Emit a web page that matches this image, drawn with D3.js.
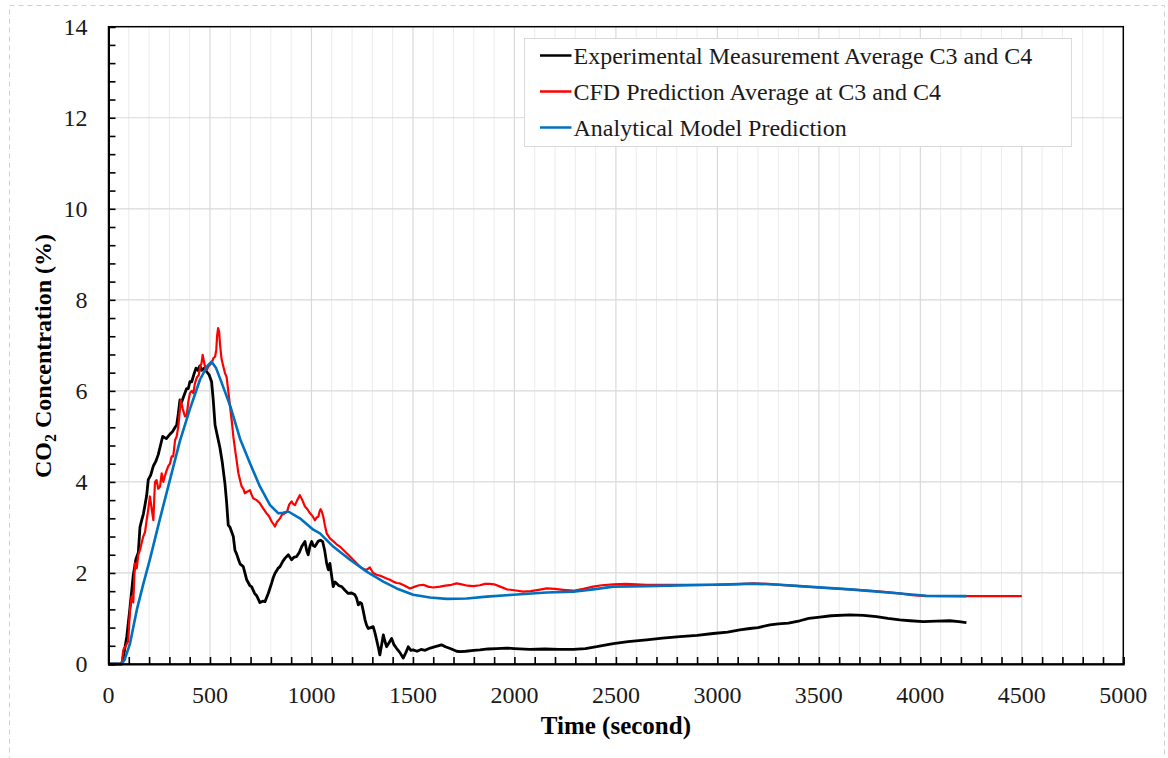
<!DOCTYPE html>
<html>
<head>
<meta charset="utf-8">
<script src="https://cdn.jsdelivr.net/npm/d3@7"></script>
<style>
  body { margin: 0; background: #fff; }
  svg { display: block; font-family: "Liberation Serif", "Times New Roman", serif; }
</style>
</head>
<body>
<svg id="chart" width="1168" height="758"></svg>
<script>
// series: [time (s), CO2 (%)]
const experimental = [
  [0,0],[40,0],[65,0],[75,0.2],[90,0.6],[105,1.2],[122,1.95],[135,2.3],[147,2.45],[155,3.0],[163,3.15],
  [172,3.3],[180,3.5],[188,3.7],[196,4.05],[208,4.15],[221,4.35],[233,4.45],[245,4.6],[256,4.8],[267,5.0],
  [285,4.95],[303,5.05],[315,5.1],[328,5.2],[336,5.25],[344,5.5],[352,5.8],[360,5.75],[372,5.9],[385,6.05],
  [393,6.05],[401,6.2],[410,6.2],[420,6.35],[431,6.5],[440,6.45],[450,6.55],[459,6.45],[470,6.5],[484,6.42],
  [496,6.35],[508,6.2],[516,5.8],[525,5.25],[537,5.0],[549,4.75],[560,4.45],[574,3.95],[582,3.55],[590,3.05],
  [599,3.0],[615,2.8],[623,2.5],[631,2.42],[640,2.3],[648,2.2],[664,2.14],[681,1.85],[697,1.72],[705,1.7],
  [720,1.55],[730,1.5],[746,1.35],[760,1.38],[771,1.37],[787,1.55],[804,1.78],[812,1.9],[820,1.99],[835,2.1],
  [845,2.14],[858,2.25],[869,2.32],[886,2.4],[902,2.29],[915,2.35],[927,2.36],[940,2.45],[952,2.58],[968,2.69],
  [976,2.5],[984,2.4],[993,2.6],[1001,2.69],[1009,2.6],[1017,2.58],[1034,2.7],[1045,2.72],[1055,2.69],[1065,2.5],
  [1075,2.21],[1083,2.07],[1091,2.21],[1099,1.95],[1107,1.7],[1116,1.8],[1124,1.77],[1136,1.72],[1149,1.7],
  [1165,1.62],[1181,1.55],[1198,1.56],[1214,1.52],[1222,1.45],[1231,1.3],[1239,1.35],[1247,1.33],[1256,1.15],
  [1264,0.97],[1272,0.85],[1280,0.78],[1292,0.8],[1304,0.82],[1312,0.7],[1321,0.53],[1330,0.35],[1337,0.2],
  [1345,0.4],[1354,0.64],[1362,0.5],[1370,0.38],[1380,0.45],[1395,0.56],[1407,0.42],[1420,0.34],[1436,0.25],
  [1452,0.13],[1465,0.25],[1477,0.38],[1490,0.3],[1501,0.31],[1520,0.28],[1540,0.32],[1560,0.3],[1585,0.35],
  [1610,0.38],[1641,0.42],[1660,0.38],[1690,0.33],[1715,0.28],[1732,0.27],[1760,0.28],[1800,0.3],[1830,0.31],
  [1870,0.33],[1912,0.34],[1960,0.35],[2000,0.34],[2076,0.32],[2150,0.33],[2220,0.32],[2290,0.32],[2350,0.34],
  [2405,0.38],[2487,0.45],[2560,0.49],[2651,0.53],[2730,0.57],[2815,0.6],[2900,0.63],[2979,0.67],[3050,0.7],
  [3111,0.75],[3160,0.78],[3200,0.8],[3259,0.86],[3300,0.88],[3350,0.9],[3406,0.95],[3450,1.0],[3505,1.03],
  [3560,1.06],[3653,1.08],[3720,1.07],[3784,1.04],[3840,1.0],[3899,0.97],[3950,0.95],[4014,0.93],[4080,0.94],
  [4145,0.95],[4190,0.93],[4227,0.91]
];

const cfd = [
  [0,0],[55,0],[65,0],[73,0.31],[85,0.4],[97,0.5],[106,1.2],[114,1.48],[122,1.35],[130,2.21],[139,2.1],
  [147,2.4],[155,2.5],[163,2.65],[171,2.8],[180,2.9],[188,3.16],[196,3.4],[204,3.68],[213,3.4],[221,3.16],
  [229,4.0],[237,4.04],[245,3.85],[254,3.9],[262,4.19],[270,4.0],[279,4.15],[287,4.26],[295,4.35],[303,4.4],
  [311,4.56],[319,4.56],[328,4.92],[336,5.0],[344,5.22],[350,5.5],[356,5.8],[366,5.6],[377,5.44],[385,5.45],
  [393,5.75],[401,5.95],[410,6.0],[418,5.95],[426,6.17],[436,6.3],[445,6.35],[451,6.53],[458,6.6],[464,6.79],
  [470,6.65],[477,6.5],[484,6.46],[494,6.55],[508,6.61],[517,6.72],[525,6.75],[531,6.9],[535,7.2],[540,7.38],
  [545,7.3],[550,7.0],[557,6.7],[565,6.55],[574,6.39],[582,6.3],[590,6.0],[599,5.65],[607,5.36],[615,5.0],
  [624,4.7],[631,4.48],[640,4.19],[648,4.04],[656,3.9],[664,3.85],[672,3.75],[681,3.78],[697,3.82],[705,3.72],
  [713,3.64],[730,3.6],[746,3.53],[762,3.42],[779,3.31],[790,3.25],[804,3.13],[812,3.08],[820,3.02],[830,3.12],
  [845,3.2],[855,3.28],[869,3.31],[880,3.35],[890,3.5],[902,3.57],[910,3.52],[919,3.49],[930,3.6],[943,3.71],
  [955,3.6],[968,3.46],[980,3.4],[993,3.31],[1005,3.25],[1017,3.16],[1026,3.22],[1034,3.24],[1040,3.35],
  [1045,3.4],[1051,3.35],[1058,3.24],[1066,3.05],[1075,2.87],[1091,2.76],[1107,2.7],[1124,2.63],[1140,2.58],
  [1165,2.47],[1190,2.36],[1214,2.25],[1239,2.14],[1260,2.08],[1272,2.07],[1288,2.12],[1304,2.0],[1321,1.96],
  [1345,1.93],[1370,1.88],[1387,1.85],[1403,1.81],[1420,1.78],[1436,1.77],[1460,1.72],[1485,1.66],[1510,1.7],
  [1530,1.73],[1551,1.74],[1575,1.7],[1600,1.68],[1633,1.7],[1660,1.72],[1690,1.74],[1715,1.77],[1740,1.75],
  [1770,1.72],[1797,1.71],[1830,1.73],[1855,1.76],[1879,1.76],[1900,1.75],[1930,1.7],[1962,1.64],[2000,1.62],
  [2043,1.59],[2080,1.6],[2120,1.63],[2159,1.66],[2200,1.65],[2240,1.63],[2290,1.61],[2340,1.65],[2388,1.7],
  [2430,1.73],[2487,1.75],[2550,1.76],[2651,1.74],[2750,1.74],[2850,1.74],[2979,1.74],[3080,1.75],[3176,1.77],
  [3250,1.76],[3308,1.74],[3406,1.71],[3500,1.68],[3653,1.64],[3780,1.6],[3899,1.55],[3960,1.51],[4030,1.49],
  [4227,1.49],[4500,1.49]
];

const analytical = [
  [0,0],[65,0],[80,0.1],[106,0.45],[140,1.2],[171,1.75],[204,2.3],[254,3.2],[303,4.05],[352,4.9],[401,5.6],
  [451,6.25],[487,6.55],[508,6.64],[530,6.5],[549,6.28],[599,5.68],[648,4.95],[697,4.41],[746,3.9],[796,3.49],
  [837,3.31],[860,3.32],[886,3.35],[943,3.2],[1009,2.95],[1042,2.87],[1107,2.58],[1190,2.29],[1272,2.03],
  [1354,1.81],[1420,1.66],[1501,1.52],[1584,1.46],[1666,1.43],[1765,1.44],[1863,1.48],[1994,1.52],[2159,1.57],
  [2290,1.59],[2388,1.64],[2487,1.7],[2651,1.71],[2979,1.74],[3144,1.76],[3200,1.76],[3308,1.74],[3406,1.71],
  [3653,1.64],[3899,1.55],[4030,1.5],[4227,1.49]
];

const seriesNames = [
  "Experimental Measurement Average C3 and C4",
  "CFD Prediction Average at C3 and C4",
  "Analytical Model Prediction"
];
const seriesColors = ["#000000", "#ff0000", "#0070c0"];

const xTicks = [0, 500, 1000, 1500, 2000, 2500, 3000, 3500, 4000, 4500, 5000];
const yTicks = [0, 2, 4, 6, 8, 10, 12, 14];

const svg = d3.select("#chart");
const margin = { top: 26.7, right: 44.7, bottom: 94, left: 108.5 };
const width = 1168 - margin.left - margin.right;
const height = 758 - margin.top - margin.bottom;

// dashed frame around the whole figure
svg.append("rect")
  .attr("x", 9.5).attr("y", 5.5)
  .attr("width", 1155).attr("height", 780)
  .attr("fill", "none")
  .attr("stroke", "#cfcfcf")
  .attr("stroke-dasharray", "5,4");

const g = svg.append("g").attr("transform", `translate(${margin.left},${margin.top})`);

const x = d3.scaleLinear().domain([0, 5000]).range([0, width]);
const y = d3.scaleLinear().domain([0, 14]).range([height, 0]);

// vertical gridlines: minor every 100, major every 500
g.append("g").selectAll("line")
  .data(d3.range(100, 5000, 100).filter(v => v % 500 !== 0))
  .join("line")
  .attr("x1", d => x(d)).attr("x2", d => x(d))
  .attr("y1", 0).attr("y2", height)
  .attr("stroke", "#ebebeb").attr("stroke-width", 1);

g.append("g").selectAll("line")
  .data(xTicks.slice(1, -1))
  .join("line")
  .attr("x1", d => x(d)).attr("x2", d => x(d))
  .attr("y1", 0).attr("y2", height)
  .attr("stroke", "#d9d9d9").attr("stroke-width", 1.2);

g.append("g").selectAll("line")
  .data(yTicks.slice(1, -1))
  .join("line")
  .attr("x1", 0).attr("x2", width)
  .attr("y1", d => y(d)).attr("y2", d => y(d))
  .attr("stroke", "#d9d9d9").attr("stroke-width", 1.2);

// series
const line = d3.line().x(d => x(d[0])).y(d => y(d[1]));
const allSeries = [experimental, cfd, analytical];
const widths = [2.8, 2.2, 2.6];
allSeries.forEach((s, i) => {
  g.append("path")
    .datum(s)
    .attr("fill", "none")
    .attr("stroke", seriesColors[i])
    .attr("stroke-width", widths[i])
    .attr("stroke-linejoin", "round")
    .attr("d", line);
});

// plot frame
g.append("rect")
  .attr("width", width).attr("height", height)
  .attr("fill", "none").attr("stroke", "#000").attr("stroke-width", 1.5);

// axes with inward ticks
const xAxis = g.append("g")
  .attr("transform", `translate(0,${height})`)
  .call(d3.axisBottom(x).tickValues(d3.range(0, 5001, 100)).tickSize(-7).tickFormat(""));
xAxis.select(".domain").attr("stroke-width", 2);
xAxis.selectAll(".tick line").attr("stroke-width", 1.6);

const yAxis = g.append("g")
  .call(d3.axisLeft(y).tickValues(d3.range(0, 14.01, 0.4)).tickSize(-7).tickFormat(""));
yAxis.select(".domain").attr("stroke-width", 2);
yAxis.selectAll(".tick line").attr("stroke-width", 1.6);

// tick labels
g.append("g").selectAll("text")
  .data(xTicks)
  .join("text")
  .attr("x", d => x(d)).attr("y", height + 39)
  .attr("text-anchor", "middle")
  .attr("font-size", 24).attr("fill", "#1a1a1a")
  .text(d => d);

g.append("g").selectAll("text")
  .data(yTicks)
  .join("text")
  .attr("x", -21).attr("y", d => y(d) + 8.5)
  .attr("text-anchor", "end")
  .attr("font-size", 24).attr("fill", "#1a1a1a")
  .text(d => d);

// axis titles
svg.append("text")
  .attr("x", margin.left + width / 2).attr("y", 734)
  .attr("text-anchor", "middle")
  .attr("font-size", 25).attr("font-weight", "bold")
  .text("Time (second)");

const yt = svg.append("text")
  .attr("transform", "translate(51,356) rotate(-90)")
  .attr("text-anchor", "middle")
  .attr("font-size", 24).attr("font-weight", "bold");
yt.append("tspan").text("CO");
yt.append("tspan").attr("font-size", 16).attr("dy", 5).text("2");
yt.append("tspan").attr("dy", -5).text(" Concentration (%)");

// legend
const legend = svg.append("g").attr("transform", "translate(524.5,38.5)");
legend.append("rect")
  .attr("width", 547).attr("height", 108)
  .attr("fill", "#fff").attr("stroke", "#d9d9d9").attr("stroke-width", 1);
seriesNames.forEach((name, i) => {
  const cy = 17 + i * 36;
  legend.append("line")
    .attr("x1", 15.5).attr("x2", 47)
    .attr("y1", cy).attr("y2", cy)
    .attr("stroke", seriesColors[i]).attr("stroke-width", 2.5);
  legend.append("text")
    .attr("x", 49).attr("y", cy + 8)
    .attr("font-size", 24).attr("fill", "#1a1a1a")
    .text(name);
});
</script>
</body>
</html>
